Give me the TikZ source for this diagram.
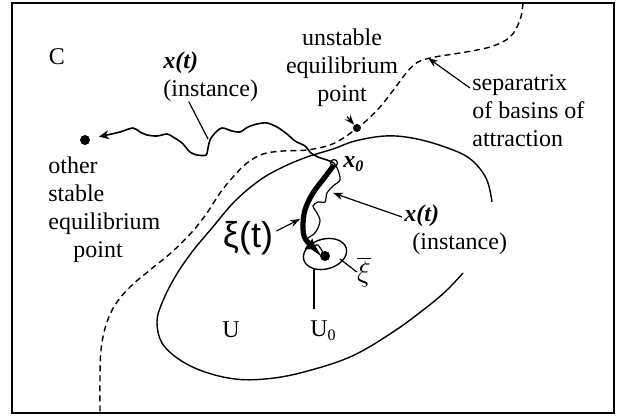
\documentclass[tikz,border=0pt]{standalone}
\usepackage{fontspec}
\setmainfont{Liberation Serif}
\newfontfamily\xisans{Liberation Sans}
\usetikzlibrary{arrows.meta, calc}

\begin{document}
\begin{tikzpicture}[x=0.5pt, y=-0.5pt,
  lbl/.style={font=\fontsize{12}{14}\selectfont, inner sep=0pt},
  lead/.style={line width=0.6pt, -{Stealth[length=5pt, width=3.6pt]}},
  curve/.style={line width=0.7pt},
  dot/.style={circle, fill=black, inner sep=0pt, minimum size=#1},
  dot/.default=5pt]
\useasboundingbox (0,0) rectangle (617,416);
\draw[line width=1pt] (12,3) rectangle (614,413);

% separatrix
\draw[curve, dash pattern=on 3pt off 2pt] plot[smooth, tension=0.6] coordinates {
  (523,3) (520,20) (510,37) (490,47) (460,53) (435,57) (418,62) (407,72)
  (395,88) (380,107) (366,121) (357,128) (345,137) (330,145) (307,150)
  (283,151) (263,154) (247,163) (233,177) (220,193) (207,213) (192,232)
  (172,252) (150,270) (130,287) (115,305) (106,325) (101,350) (100,380) (100,413)};
\coordinate (sp) at (428,58);

% basin U
\draw[curve] plot[smooth, tension=0.6] coordinates {
  (492,202) (486,178) (469,158) (442,146) (412,138) (385,136) (355,141)
  (333,149) (307,157) (283,167) (260,180) (235,201) (212,228) (192,252)
  (175,277) (162,303) (157,322) (162,343) (180,360) (205,372) (235,379)
  (265,379) (300,373) (350,357) (393,332) (427,307) (447,290) (463,273)};

% small set U0
\draw[curve, rotate around={15:(325,254)}] (325,254) ellipse [x radius=11pt, y radius=7.5pt];

% points
\node[dot] (seq) at (85,140) {};
\node[dot=4pt] (ueq) at (357,128) {};
\node[dot] (xib) at (325,256) {};
\node[circle, draw, fill=white, line width=0.6pt, inner sep=0pt, minimum size=3.5pt] (x0) at (334,163) {};

% instance leaving the basin
\draw[line width=0.8pt, -{Stealth[open, length=5pt, width=4.5pt]}, shorten >=1pt]
  plot[smooth, tension=0.5] coordinates {
  (334,163) (327,160) (318,157) (311,153) (305,146) (295,141) (287,134)
  (277,127) (267,123) (257,124) (248,127) (240,132) (232,131) (222,128)
  (215,133) (210,140) (208,148) (206,155) (197,155) (190,152) (182,143)
  (173,137) (167,134) (157,136) (147,135) (140,132) (133,128) (120,132)
  (107,135) (97,137)};
\coordinate (w1) at (208,139);

% instance staying in the basin
\draw[line width=0.6pt] plot[smooth, tension=0.5] coordinates {
  (334,163) (338,170) (340,180) (333,186) (327,193) (325,202) (318,202)
  (313,206) (317,213) (320,220) (318,228) (314,234) (308,238) (307,243)
  (313,247) (318,245) (325,256)};
\coordinate (xtb) at (333,193);

% mean trajectory
\draw[line width=2.6pt, -{Latex[length=6pt, width=7pt]}]
  plot[smooth, tension=0.6] coordinates {
  (334,165) (325,177) (313,193) (305,210) (303,228) (306,240) (318,251)};
\coordinate (xit) at (300,219);

% labels
\node[lbl] (cc) at (57,57) {C};
\node[lbl, align=left, anchor=north west] (xt1) at (163,51)
  {\bfseries\itshape x(t)\\(instance)};
\node[lbl, align=left, anchor=north west] (oseq) at (48,156)
  {other\\stable\\equilibrium\\\hspace*{12.5pt}point};
\node[lbl, align=center, anchor=north] (uep) at (342,28)
  {unstable\\equilibrium\\point};
\node[lbl, align=left, anchor=north west] (sep) at (472,74)
  {separatrix\\of basins of\\attraction};
\node[lbl, anchor=west] (x0l) at (343,164) {\bfseries\itshape x\textsubscript{0}};
\node[lbl, align=left, anchor=north west] (xt2) at (404,204)
  {\bfseries\itshape x(t)\\\hspace*{4pt}(instance)};
\node[inner sep=0pt, font=\xisans\fontsize{18}{20}\selectfont] (xi) at (248,238) {ξ(t)};
\node[lbl, font=\fontsize{15}{17}\selectfont] (xibl) at (364,272) {$\overline{\xi}$};
\node[lbl] (u) at (231,330) {U};
\node[lbl, anchor=west] (u0) at (310,331) {U\textsubscript{0}};
\coordinate (u0e) at (314,269);
\coordinate (xie) at (340,259);

% leaders
\draw[line width=0.6pt] ([xshift=-11pt]xt1.south) -- (w1);
\draw[lead] ([xshift=2.5pt, yshift=-5pt]uep.south) -- (ueq);
\draw[lead] ([xshift=-1pt, yshift=-7pt]sep.north west) -- (sp);
\draw[lead] ([xshift=-1pt, yshift=-6.5pt]xt2.north west) -- (xtb);
\draw[lead] ([xshift=1.5pt, yshift=3.5pt]xi.east) -- (xit);
\draw[line width=0.6pt] (xie) -- (xibl.west);
\draw[line width=0.6pt] (u0e) -- ($(u0e |- u0.north)+(0,-12)$);
\end{tikzpicture}
\end{document}
